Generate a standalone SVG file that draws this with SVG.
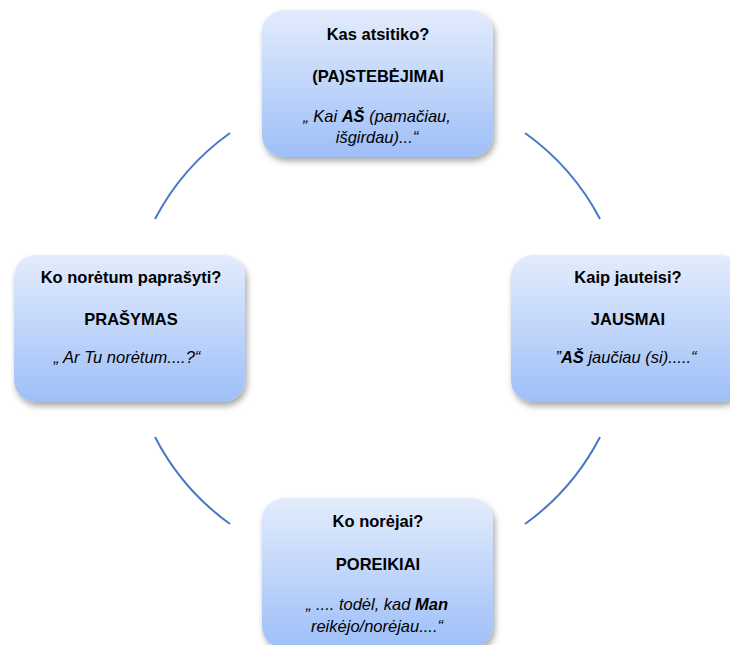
<svg xmlns="http://www.w3.org/2000/svg" width="730" height="645" viewBox="0 0 730 645">
<style>
.box{fill:url(#g);filter:url(#sh)}
.t{font-family:"Liberation Sans",Arial,sans-serif;font-size:16.5px;fill:#000;text-anchor:middle}
.b{font-weight:bold}
.i{font-style:italic}
.arc{fill:none;stroke:#4677c8;stroke-width:2}
</style>
<defs>
<linearGradient id="g" x1="0" y1="0" x2="0" y2="1">
<stop offset="0" stop-color="#e3ecfc"/>
<stop offset="1" stop-color="#9ebff8"/>
</linearGradient>
<filter id="sh" x="-10%" y="-10%" width="125%" height="130%">
<feDropShadow dx="2" dy="4" stdDeviation="3" flood-color="#000" flood-opacity="0.35"/>
</filter>
</defs>
<g id="connectors">
<path class="arc" d="M155,219 A246,246 0 0 1 230,133"/>
<path class="arc" d="M525,133 A246,246 0 0 1 600,219"/>
<path class="arc" d="M600,437 A246,246 0 0 1 525,524"/>
<path class="arc" d="M230,524 A246,246 0 0 1 155,437"/>
</g>
<g id="pastebejimai">
<rect class="box" x="262" y="10" width="231" height="147" rx="22"/>
<text class="t b" x="378" y="40">Kas atsitiko?</text>
<text class="t b" x="378" y="82">(PA)STEBĖJIMAI</text>
<text class="t i" x="377" y="122">„ Kai <tspan class="b">AŠ</tspan> (pamačiau,</text>
<text class="t i" x="377" y="143">išgirdau)...“</text>
</g>
<g id="prasymas">
<rect class="box" x="14" y="255" width="231" height="147" rx="22"/>
<text class="t b" x="131" y="283">Ko norėtum paprašyti?</text>
<text class="t b" x="131" y="325">PRAŠYMAS</text>
<text class="t i" x="127" y="363">„ Ar Tu norėtum....?“</text>
</g>
<g id="jausmai">
<rect class="box" x="511" y="255" width="231" height="147" rx="22"/>
<text class="t b" x="628" y="283">Kaip jauteisi?</text>
<text class="t b" x="628" y="325">JAUSMAI</text>
<text class="t i" x="626" y="363">”<tspan class="b">AŠ</tspan> jaučiau (si).....“</text>
</g>
<g id="poreikiai">
<rect class="box" x="262" y="498" width="231" height="150" rx="22"/>
<text class="t b" x="378" y="527">Ko norėjai?</text>
<text class="t b" x="378" y="570">POREIKIAI</text>
<text class="t i" x="377" y="610">„ .... todėl, kad <tspan class="b">Man</tspan></text>
<text class="t i" x="377" y="632">reikėjo/norėjau....“</text>
</g>
</svg>
